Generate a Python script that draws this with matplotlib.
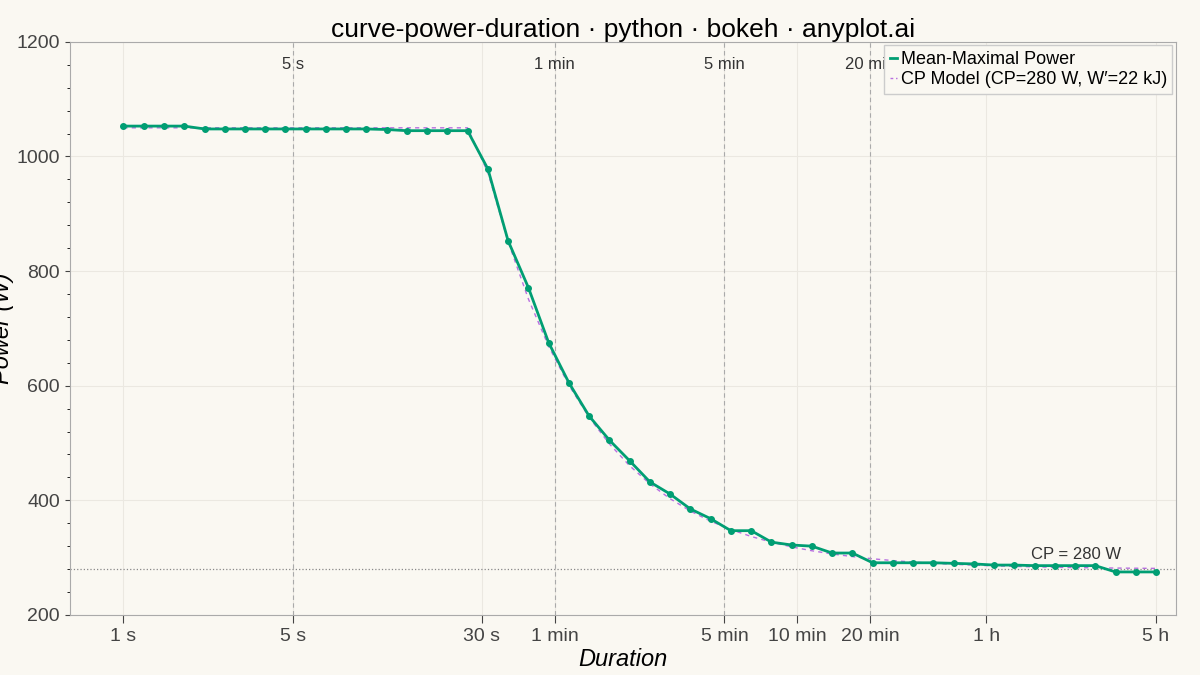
import numpy as np
import matplotlib.pyplot as plt
from matplotlib.lines import Line2D
from matplotlib.ticker import FixedLocator, NullFormatter, MultipleLocator

plt.rcParams['font.family'] = ['Liberation Sans', 'DejaVu Sans']

# durations in seconds
durations = [1, 1.21, 1.47, 1.78, 2.16, 2.61, 3.17, 3.84, 4.65, 5.64, 6.83, 8.28, 10.0,
             12.2, 14.7, 17.9, 21.6, 26.2, 31.8, 38.5, 46.7, 56.6, 68.6, 83.1, 100.7,
             122, 148, 179, 217, 263, 319, 387, 469, 568, 688, 834, 1011, 1225, 1484,
             1798, 2179, 2641, 3200, 3878, 4699, 5694, 6900, 8362, 10133, 12279, 14879, 18000]
power = [1053, 1053, 1053, 1053, 1048, 1048, 1048, 1048, 1048, 1048, 1048, 1048, 1048,
         1047, 1045, 1045, 1045, 1045, 978, 853, 771, 675, 605, 547, 505, 469, 432, 411,
         385, 368, 347, 347, 327, 322, 320, 308, 308, 291, 291, 291, 291, 290, 289, 287,
         287, 286, 286, 286, 286, 275, 275, 275]

CP = 280
W_PRIME = 22000
P_MAX = 1050

tick_pos = [1, 5, 30, 60, 300, 600, 1200, 3600, 18000]
tick_labels = ["1 s", "5 s", "30 s", "1 min", "5 min", "10 min", "20 min", "1 h", "5 h"]
marker_pos = [5, 60, 300, 1200]
marker_labels = ["5 s", "1 min", "5 min", "20 min"]

bg = "#FAF8F2"
green = "#009E73"
purple = "#B86FE0"

fig, ax = plt.subplots(figsize=(12, 6.75), dpi=100)
fig.patch.set_facecolor(bg)
ax.set_facecolor(bg)
fig.subplots_adjust(left=0.058, right=0.98, top=0.938, bottom=0.089)

t = np.array(durations)
model = np.minimum(P_MAX, CP + W_PRIME / t)
ax.plot(t, model, color=purple, lw=1, ls=(0, (3, 3)))
ax.plot(durations, power, color=green, lw=2, marker="o", ms=4, zorder=3)

ax.axhline(CP, color="#888888", lw=0.9, ls=":")
ax.text(1.3e4, CP + 12, "CP = 280 W", ha="right", va="bottom", fontsize=12, color="#333333")

for p, lab in zip(marker_pos, marker_labels):
    ax.axvline(p, color="#aaaaaa", lw=0.8, ls=(0, (4, 3)))
    ax.text(p, 1160, lab, ha="center", va="center", fontsize=12, color="#333333")

ax.set_xscale("log")
ax.set_xlim(0.6, 21800)
ax.set_ylim(200, 1200)
ax.xaxis.set_major_locator(FixedLocator(tick_pos))
ax.set_xticklabels(tick_labels)
ax.xaxis.set_minor_formatter(NullFormatter())
ax.xaxis.set_minor_locator(FixedLocator([]))
ax.yaxis.set_major_locator(MultipleLocator(200))
ax.yaxis.set_minor_locator(MultipleLocator(40))
ax.grid(True, which="major", color="#ebe8e1", lw=0.8)
ax.tick_params(labelsize=14, colors="#444444")
ax.tick_params(axis="x", length=6)
for s in ax.spines.values():
    s.set_color("#aaaaaa")

ax.set_xlabel("Duration", fontsize=17, style="italic", labelpad=2)
ax.set_ylabel("Power (W)", fontsize=17, style="italic")
ax.yaxis.set_label_coords(-0.05, 0.5)
ax.set_title("curve-power-duration · python · bokeh · anyplot.ai", fontsize=19, pad=2)

handles = [Line2D([], [], color=green, lw=2),
           Line2D([], [], color=purple, lw=1, ls=(0, (2, 2)))]
labels = ["Mean-Maximal Power", "CP Model (CP=280 W, W′=22 kJ)"]
ax.legend(handles, labels, loc="upper right", fontsize=13, handlelength=0.4,
          handletextpad=0.2, borderaxespad=0.2, fancybox=False, facecolor=bg,
          framealpha=1, edgecolor="#cccccc", borderpad=0.3, labelspacing=0.2)

fig.savefig("out.png", dpi=100, facecolor=bg)
